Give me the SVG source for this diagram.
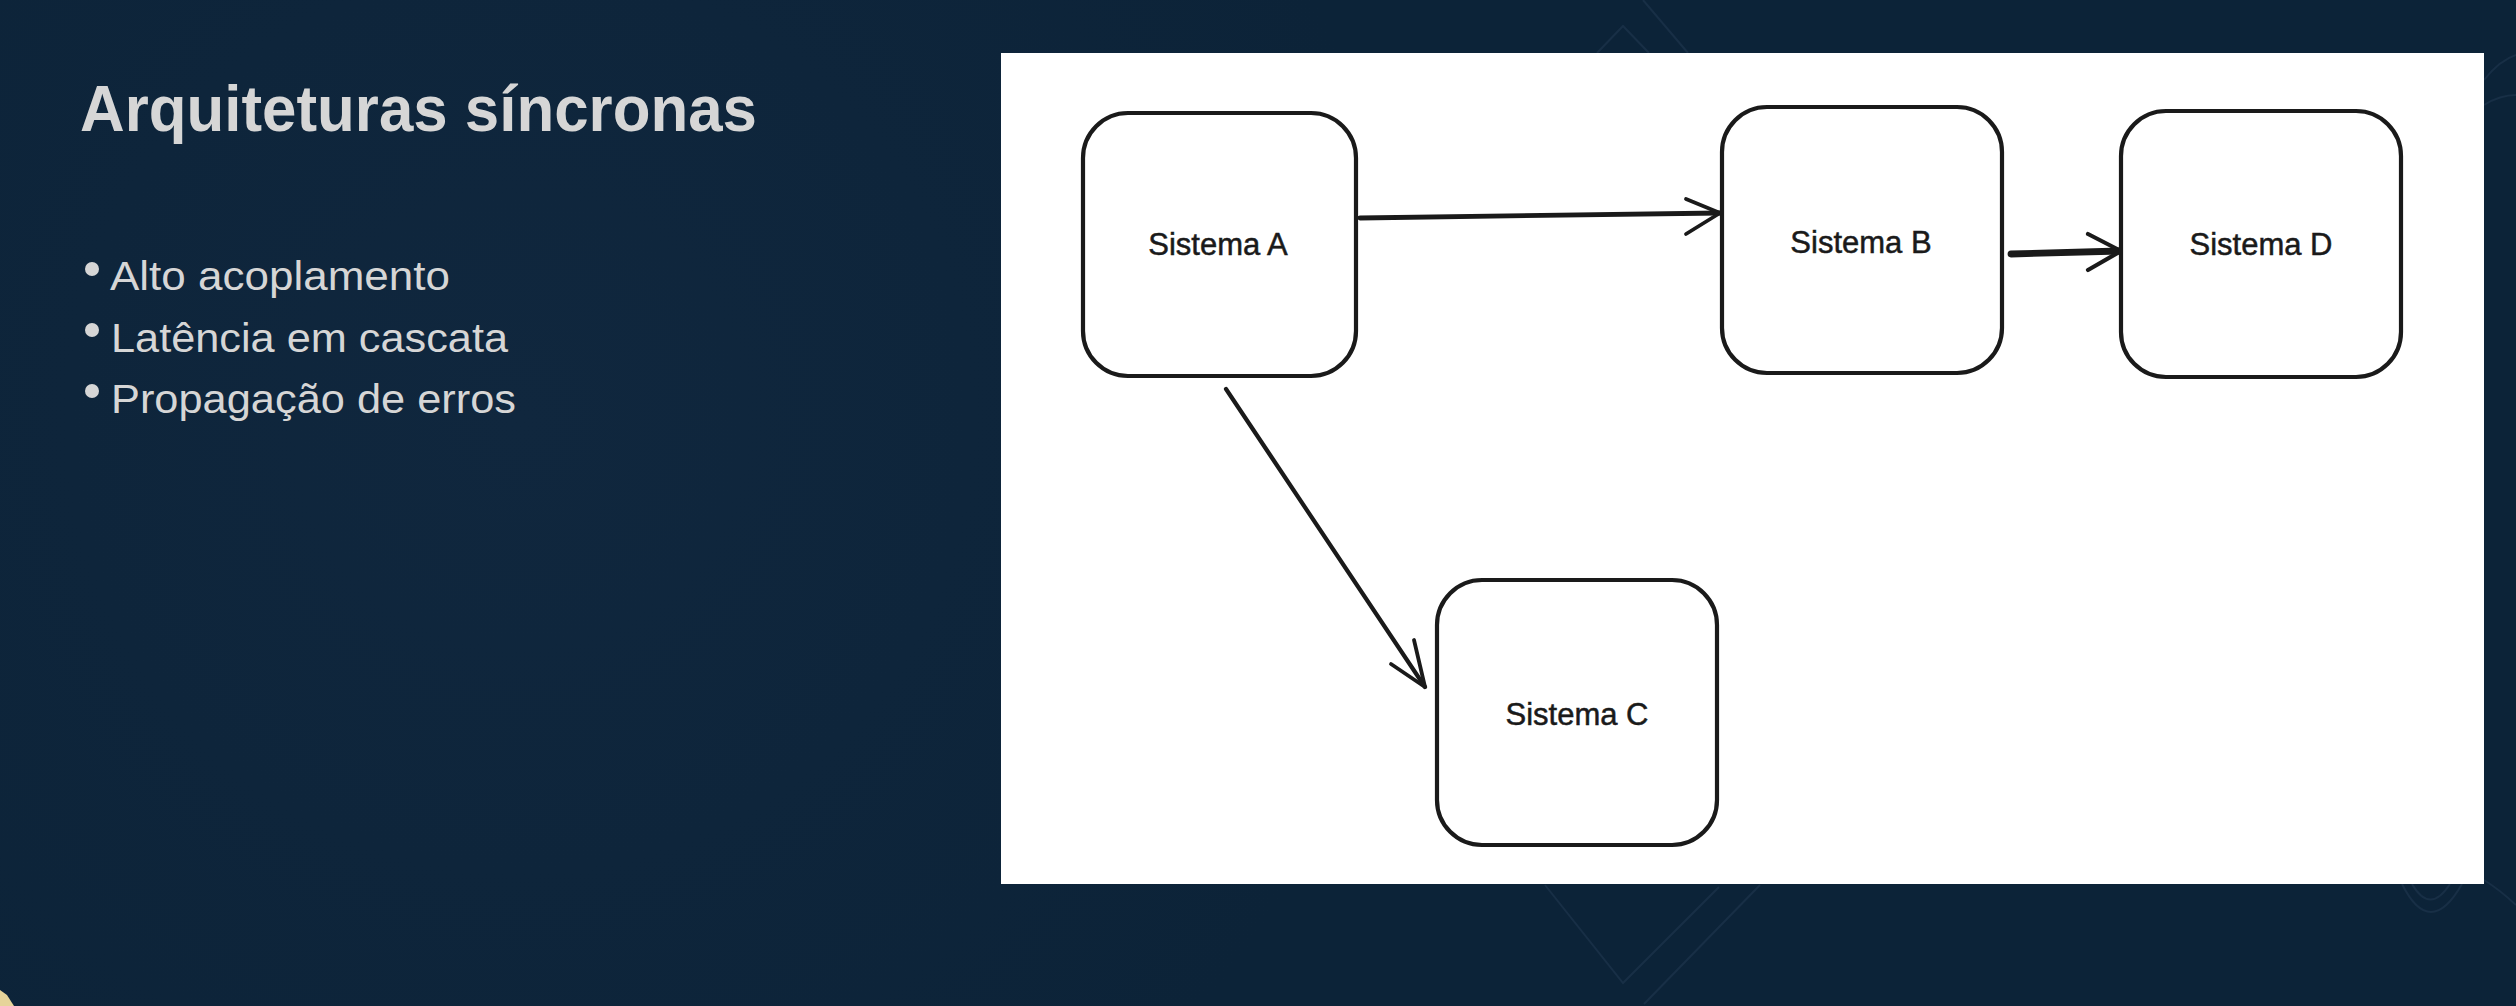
<svg xmlns="http://www.w3.org/2000/svg" width="2516" height="1006" viewBox="0 0 2516 1006">
  <defs>
    <radialGradient id="bgGlow" cx="520" cy="420" r="900" gradientUnits="userSpaceOnUse">
      <stop offset="0" stop-color="#10273e"/>
      <stop offset="1" stop-color="#0c2338"/>
    </radialGradient>
    <style>
      .title { font-family: "Liberation Sans", Arial, sans-serif; font-weight: bold; font-size: 64px; fill: #d6d6d6; }
      .bullet { font-family: "Liberation Sans", Arial, sans-serif; font-size: 41px; fill: #d6d6d6; }
      .dot { fill: #d6d6d6; }
      .deco { fill: none; stroke: #182f46; stroke-width: 2; }
      .box { fill: #ffffff; stroke: #1a1a1a; stroke-width: 4.2; }
      .label { font-family: "Liberation Sans", Arial, sans-serif; font-size: 31px; fill: #1a1a1a; stroke: #1a1a1a; stroke-width: 0.5; text-anchor: middle; }
      .edge { fill: none; stroke: #1a1a1a; stroke-linecap: round; stroke-linejoin: round; }
    </style>
  </defs>

  <!-- background -->
  <rect x="0" y="0" width="2516" height="1006" fill="url(#bgGlow)"/>
  <g id="decoration">
    <path class="deco" d="M1597,53 L1623,26 L1649,53"/>
    <path class="deco" d="M1643,0 L1688,53"/>
    <path class="deco" d="M1545,885 L1623,983 L1719,887"/>
    <path class="deco" d="M1760,885 L1644,1004"/>
    <path class="deco" d="M2402,884 Q2430,940 2462,884"/>
    <path class="deco" d="M2412,884 Q2430,915 2450,884"/>
    <path class="deco" d="M2484,80 Q2500,60 2516,55"/>
    <path class="deco" d="M2484,105 Q2500,95 2516,95"/>
    <path class="deco" d="M2484,880 Q2500,890 2516,905"/>
    <polygon points="0,990 7,995 14,1006 0,1006" fill="#e6d49a"/>
  </g>

  <!-- left text -->
  <g id="title">
    <text class="title" x="80" y="131" textLength="677" lengthAdjust="spacingAndGlyphs">Arquiteturas síncronas</text>
  </g>
  <g id="bullets">
    <circle class="dot" cx="92" cy="269" r="7"/>
    <text class="bullet" x="110" y="290" textLength="340" lengthAdjust="spacingAndGlyphs">Alto acoplamento</text>
    <circle class="dot" cx="92" cy="330" r="7"/>
    <text class="bullet" x="111" y="352" textLength="397" lengthAdjust="spacingAndGlyphs">Latência em cascata</text>
    <circle class="dot" cx="92" cy="391" r="7"/>
    <text class="bullet" x="111" y="413" textLength="405" lengthAdjust="spacingAndGlyphs">Propagação de erros</text>
  </g>

  <!-- white panel -->
  <rect id="panel" x="1001" y="53" width="1483" height="831" fill="#ffffff"/>

  <!-- connectors -->
  <g id="connectors">
    <g id="edge-a-b">
      <path class="edge" stroke-width="4.8" d="M1360,218 L1720,213"/>
      <path class="edge" stroke-width="3.8" d="M1686,199 L1720,213 L1686,234"/>
    </g>
    <g id="edge-b-d">
      <path class="edge" stroke-width="6.8" d="M2011,254 L2120,251"/>
      <path class="edge" stroke-width="4.2" d="M2088,234 L2121,251 L2088,270"/>
    </g>
    <g id="edge-a-c">
      <path class="edge" stroke-width="4.2" d="M1226,389 L1425,687"/>
      <path class="edge" stroke-width="3.8" d="M1414,640 L1425,687 L1391,664"/>
    </g>
  </g>

  <!-- nodes -->
  <g id="node-a">
    <rect class="box" x="1083" y="113" width="273" height="263" rx="45" ry="45"/>
    <text class="label" x="1218" y="255">Sistema A</text>
  </g>
  <g id="node-b">
    <rect class="box" x="1722" y="107" width="280" height="266" rx="45" ry="45"/>
    <text class="label" x="1861" y="253">Sistema B</text>
  </g>
  <g id="node-d">
    <rect class="box" x="2121" y="111" width="280" height="266" rx="45" ry="45"/>
    <text class="label" x="2261" y="255">Sistema D</text>
  </g>
  <g id="node-c">
    <rect class="box" x="1437" y="580" width="280" height="265" rx="45" ry="45"/>
    <text class="label" x="1577" y="725">Sistema C</text>
  </g>
</svg>
